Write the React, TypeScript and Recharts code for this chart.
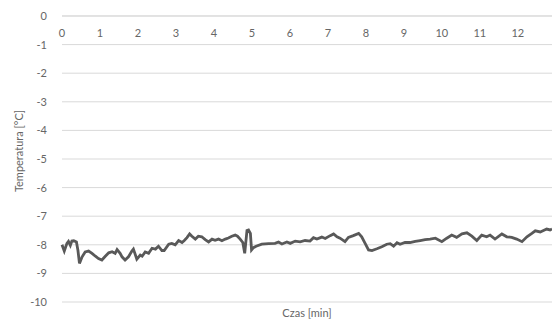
import { LineChart, Line, XAxis, YAxis, CartesianGrid } from 'recharts'

// Czas pomiaru [min]
const timeMin = [
  0, 0.06, 0.13, 0.17, 0.22, 0.26, 0.31, 0.38, 0.42, 0.46, 0.53, 0.61, 0.7, 0.79, 0.88, 0.96,
  1.05, 1.14, 1.23, 1.32, 1.4, 1.45, 1.53, 1.58, 1.66, 1.75, 1.84, 1.88, 1.97, 2.06, 2.11, 2.19,
  2.28, 2.37, 2.46, 2.54, 2.63, 2.69, 2.81, 2.89, 2.98, 3.07, 3.16, 3.22, 3.29, 3.36, 3.42, 3.51,
  3.59, 3.68, 3.77, 3.86, 3.95, 4.03, 4.12, 4.21, 4.3, 4.38, 4.47, 4.56, 4.62, 4.69, 4.76, 4.81,
  4.87, 4.91, 4.96, 4.99, 5.04, 5.11, 5.26, 5.44, 5.61, 5.7, 5.79, 5.92, 6.01, 6.14, 6.27, 6.4,
  6.53, 6.62, 6.71, 6.84, 6.93, 7.06, 7.15, 7.24, 7.32, 7.45, 7.54, 7.67, 7.81, 7.89, 7.98, 8.07,
  8.16, 8.29, 8.42, 8.55, 8.64, 8.73, 8.82, 8.9, 9.03, 9.16, 9.3, 9.43, 9.56, 9.69, 9.83, 10.0,
  10.13, 10.26, 10.39, 10.53, 10.66, 10.79, 10.92, 11.05, 11.18, 11.27, 11.4, 11.58, 11.71, 11.84,
  11.97, 12.11, 12.24, 12.37, 12.46, 12.59, 12.69, 12.76, 12.85, 12.9,
]

// Temperatura [°C]
const tempC = [
  -8.0, -8.22, -7.95, -7.88, -8.02, -7.87, -7.86, -7.9, -8.2, -8.65, -8.42, -8.25, -8.22, -8.3, -8.4, -8.48,
  -8.53, -8.4, -8.28, -8.24, -8.3, -8.17, -8.3, -8.42, -8.53, -8.42, -8.22, -8.15, -8.5, -8.36, -8.4, -8.25,
  -8.3, -8.12, -8.15, -8.05, -8.2, -8.2, -7.98, -7.95, -8.0, -7.85, -7.92, -7.85, -7.75, -7.62, -7.7, -7.8,
  -7.7, -7.72, -7.82, -7.9, -7.8, -7.84, -7.8, -7.86, -7.8, -7.76, -7.7, -7.66, -7.7, -7.8, -7.92, -8.3,
  -7.5, -7.48, -7.6, -8.18, -8.1, -8.05, -7.98, -7.96, -7.95, -7.9, -7.97, -7.9, -7.95, -7.87, -7.9, -7.85,
  -7.87, -7.75, -7.8, -7.73, -7.78, -7.68, -7.62, -7.72, -7.77, -7.89, -7.74, -7.68, -7.6, -7.72, -7.95, -8.18,
  -8.2, -8.14, -8.07, -7.98, -7.96, -8.05, -7.93, -7.98, -7.92, -7.92, -7.88, -7.85, -7.82, -7.8, -7.77, -7.89,
  -7.77, -7.66, -7.74, -7.62, -7.58, -7.7, -7.85, -7.66, -7.72, -7.66, -7.8, -7.62, -7.72, -7.74,
  -7.8, -7.89, -7.72, -7.6, -7.51, -7.55, -7.49, -7.45, -7.48, -7.45,
]

const xTicks = [0, 1, 2, 3, 4, 5, 6, 7, 8, 9, 10, 11, 12]
const yTicks = [0, -1, -2, -3, -4, -5, -6, -7, -8, -9, -10]

const data = timeMin.map((t, i) => ({ t, temp: tempC[i] }))

const FONT = 'Lato, "Open Sans", sans-serif'
const TEXT = '#666666'
const GRID = '#d9d9d9'
const PLOT_TOP = 16

// x labels sit below the zero line, inside the plot
function TopTick({ x, payload }: { x?: number; payload?: { value: number } }) {
  return (
    <text x={x} y={PLOT_TOP + 21} textAnchor="middle" fontSize={11} fontFamily={FONT} fill={TEXT}>
      {payload?.value}
    </text>
  )
}

function YTitle({ viewBox }: { viewBox?: { x: number; y: number; width: number; height: number } }) {
  const cy = (viewBox?.y ?? 0) + (viewBox?.height ?? 0) / 2 - 8
  return (
    <text
      x={0}
      y={0}
      transform={`translate(18, ${cy}) rotate(-90)`}
      textAnchor="middle"
      dominantBaseline="central"
      fontSize={11}
      fontFamily={FONT}
      fill={TEXT}
    >
      Temperatura [°C]
    </text>
  )
}

function XTitle({ viewBox }: { viewBox?: { x: number; y: number; width: number; height: number } }) {
  const cx = (viewBox?.x ?? 0) + (viewBox?.width ?? 0) / 2
  return (
    <text x={cx} y={(viewBox?.y ?? 0) + 15} textAnchor="middle" fontSize={11} fontFamily={FONT} fill={TEXT}>
      Czas [min]
    </text>
  )
}

export default function App() {
  return (
    <div style={{ position: 'absolute', left: 0, top: 0 }}>
      <LineChart width={552} height={320} data={data} margin={{ top: 0, right: 0, bottom: 0, left: 0 }}>
        <CartesianGrid horizontal vertical={false} stroke={GRID} />
        <XAxis
          xAxisId="top"
          orientation="top"
          dataKey="t"
          type="number"
          domain={[0, 12.9]}
          ticks={xTicks}
          height={PLOT_TOP}
          axisLine={{ stroke: GRID }}
          tickLine={false}
          tick={<TopTick />}
          interval={0}
        />
        <XAxis
          xAxisId="bottom"
          orientation="bottom"
          dataKey="t"
          type="number"
          domain={[0, 12.9]}
          height={18}
          axisLine={false}
          tickLine={false}
          tick={false}
          label={<XTitle />}
        />
        <YAxis
          type="number"
          domain={[-10, 0]}
          ticks={yTicks}
          width={62}
          axisLine={false}
          tickLine={false}
          tickSize={0}
          tickMargin={15}
          interval={0}
          tick={{ fontSize: 11, fontFamily: FONT, fill: TEXT }}
          label={<YTitle />}
        />
        <Line
          xAxisId="top"
          type="linear"
          dataKey="temp"
          stroke="#595959"
          strokeWidth={2.8}
          dot={false}
          activeDot={false}
          isAnimationActive={false}
        />
      </LineChart>
    </div>
  )
}
